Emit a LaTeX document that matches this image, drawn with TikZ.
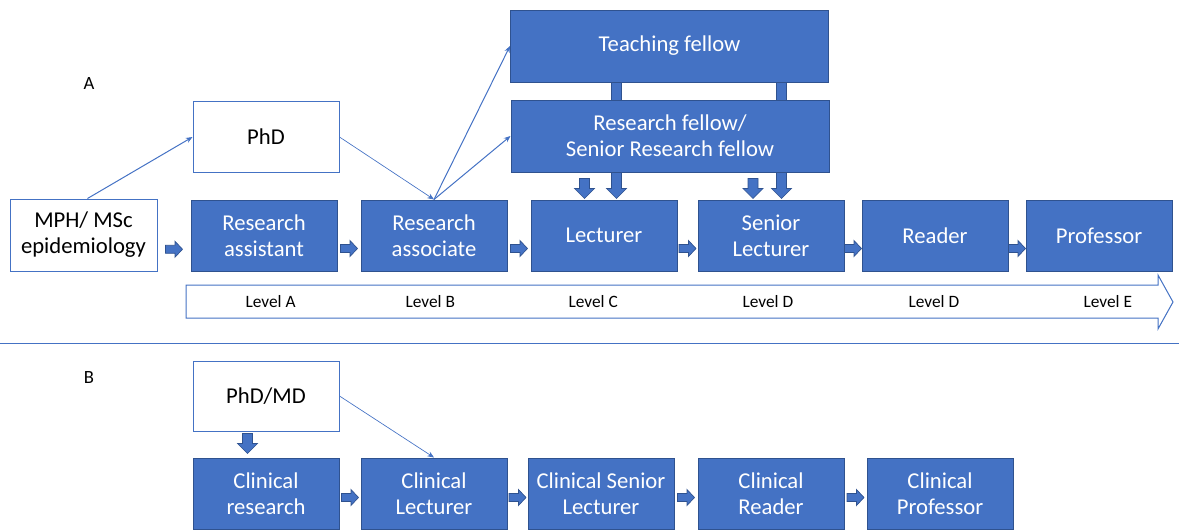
\documentclass[tikz,border=0pt]{standalone}
\usepackage{fontspec}
\setmainfont{Carlito}
\usetikzlibrary{calc,arrows.meta}

\definecolor{boxblue}{RGB}{68,114,196}
\definecolor{edgeblue}{RGB}{47,82,143}

\tikzset{every picture/.style={line width=0.75pt}}
\tikzset{
  bluebox/.style={draw=edgeblue,fill=boxblue,text=white,align=center,inner sep=0pt,
    minimum width=109.5pt,minimum height=53.25pt,font=\fontsize{17}{19.5}\selectfont},
  widebox/.style={bluebox,minimum width=238.5pt,minimum height=54pt},
  whitebox/.style={bluebox,draw=boxblue,fill=white,text=black},
  blockfill/.style={draw=edgeblue,fill=boxblue,line width=0.5pt},
  thinarrow/.style={draw=boxblue,-{Stealth[length=5pt,width=4pt]}},
  pics/rightarrow/.style={code={
    \draw[blockfill] (-8.5,-4) -- (1,-4) -- (1,-8) -- (8.5,0) -- (1,8) -- (1,4) -- (-8.5,4) -- cycle;}},
  pics/downarrow/.style={code={
    \draw[blockfill] (-5,0) -- (5,0) -- (5,-#1+10) -- (10,-#1+10) -- (0,-#1) -- (-10,-#1+10) -- (-5,-#1+10) -- cycle;}}
}

\begin{document}
\begin{tikzpicture}[x=0.75pt,y=0.75pt,yscale=-1,xscale=1]
\useasboundingbox (0,0) rectangle (1179,529);

%Labels
\node[font=\fontsize{14}{16}\selectfont] (lblA) at (89,84) {A};
\node[font=\fontsize{14}{16}\selectfont] (lblB) at (89,378) {B};

%Top row
\node[whitebox,minimum width=110.25pt,minimum height=54pt] (mph) at (83.5,235) {MPH/ MSc\\epidemiology};
\node[bluebox] (ra) at (264,235.5) {Research\\assistant};
\node[bluebox] (rs) at (434,235.5) {Research\\associate};
\node[bluebox] (lec) at (604,235.5) {Lecturer};
\node[bluebox] (slec) at (771,235.5) {Senior\\Lecturer};
\node[bluebox] (rdr) at (935,235.5) {Reader};
\node[bluebox] (prof) at (1099,235.5) {Professor};
\node[whitebox] (phd) at (266,137) {PhD};

%Fellowships
\node[widebox] (tf) at (669.5,46) {Teaching fellow};
\pic at ($(tf.south)+(-53,0)$) {downarrow=116};
\pic at ($(tf.south)+(112,0)$) {downarrow=116};
\node[widebox] (rf) at (670,136) {Research fellow/\\Senior Research fellow};
\pic at ($(rf.south)+(-85.5,6)$) {downarrow=20};
\pic at ($(rf.south)+(83,6)$) {downarrow=20};

%Block arrows top row
\pic at ($(mph.east)!0.5!(ra.west)+(0,14)$) {rightarrow};
\pic at ($(ra.east)!0.5!(rs.west)+(0,13)$) {rightarrow};
\pic at ($(rs.east)!0.5!(lec.west)+(0,13)$) {rightarrow};
\pic at ($(lec.east)!0.5!(slec.west)+(0,13)$) {rightarrow};
\pic at ($(slec.east)!0.5!(rdr.west)+(0,13)$) {rightarrow};
\pic at ($(rdr.east)!0.5!(prof.west)+(0,13)$) {rightarrow};

%Straight Lines
\draw[thinarrow] ($(mph.north)+(4,0)$) -- (phd.west);
\draw[thinarrow,line width=0.5pt] (phd.east) -- (rs.north);
\draw[thinarrow] (rs.north) -- (tf.west);
\draw[thinarrow] (rs.north) -- (rf.west);

%Shape: Level arrow
\draw[draw=boxblue,fill=white] (186,285) -- (1158,285) -- (1158,275) -- (1173,302) -- (1158,329) -- (1158,318) -- (186,318) -- cycle;
\begin{scope}[every node/.style={anchor=west,font=\fontsize{13}{15}\selectfont,inner sep=0pt}]
\node (lvA) at (245,301.5) {Level A};
\node (lvB) at (405,301.5) {Level B};
\node (lvC) at (568,301.5) {Level C};
\node (lvD) at (742,301.5) {Level D};
\node (lvDD) at (908,301.5) {Level D};
\node (lvE) at (1083,301.5) {Level E};
\end{scope}

%Separator
\coordinate (sepL) at (0,343);
\coordinate (sepR) at (1179,343);
\draw[draw=boxblue,line width=0.5pt] (sepL) -- (sepR);

%Bottom row
\node[whitebox,minimum height=52.5pt] (phdmd) at (266,396) {PhD/MD};
\node[bluebox] (cr) at (266,493.5) {Clinical\\research};
\node[bluebox] (cl) at (434,493.5) {Clinical\\Lecturer};
\node[bluebox] (csl) at (601,493.5) {Clinical Senior\\Lecturer};
\node[bluebox] (crd) at (771,493.5) {Clinical\\Reader};
\node[bluebox] (cp) at (940,493.5) {Clinical\\Professor};

\pic at ($(phdmd.south)+(-18.5,2)$) {downarrow=20};
\draw[thinarrow,line width=0.5pt] (phdmd.east) -- (cl.north);

%Block arrows bottom row
\pic at ($(cr.east)!0.5!(cl.west)+(0,4)$) {rightarrow};
\pic at ($(cl.east)!0.5!(csl.west)+(0,4)$) {rightarrow};
\pic at ($(csl.east)!0.5!(crd.west)+(0,4)$) {rightarrow};
\pic at ($(crd.east)!0.5!(cp.west)+(0,4)$) {rightarrow};

\end{tikzpicture}
\end{document}
